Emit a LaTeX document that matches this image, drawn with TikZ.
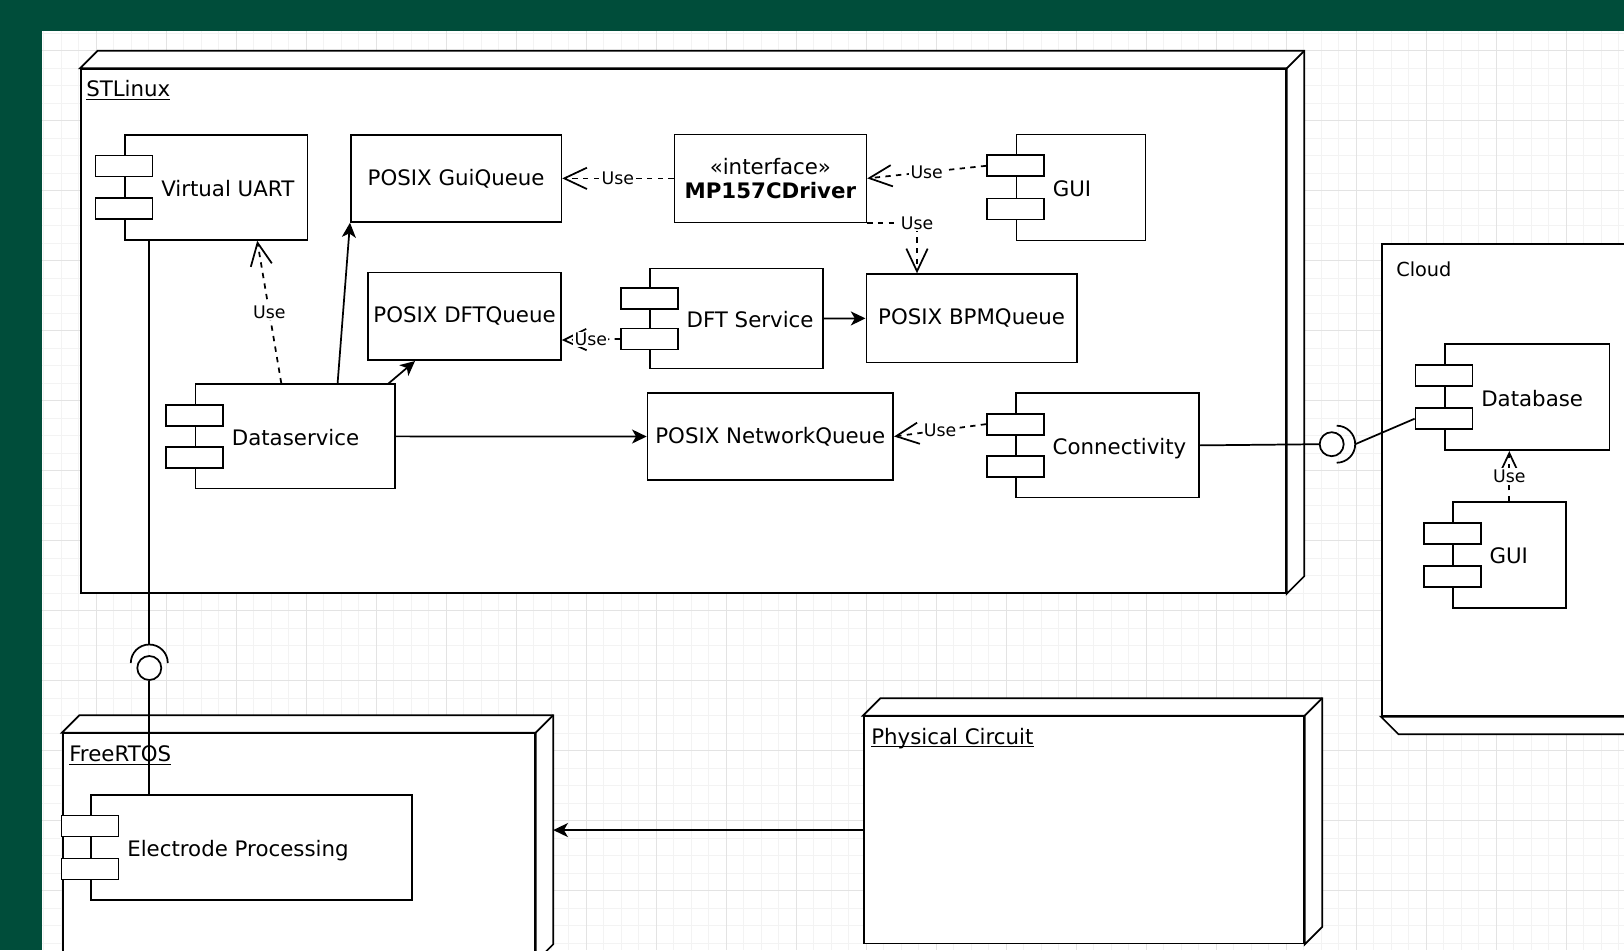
\documentclass[tikz,border=0pt]{standalone}
\usepackage{fontspec}
\setmainfont{DejaVu Sans}
\usetikzlibrary{calc, arrows.meta}

\begin{document}
\begin{tikzpicture}[x=0.75pt, y=-0.75pt,
    comp/.style={draw, fill=white, line width=1.3pt, anchor=north west, inner sep=0pt},
    port/.style={draw, fill=white, line width=1.3pt, minimum width=57*\px, minimum height=21*\px, inner sep=0pt},
    comptext/.style={anchor=base west, inner sep=0pt, font=\boxfont},
    queue/.style={draw, fill=white, line width=1.3pt, anchor=north west, inner sep=0pt, font=\boxfont},
    box3d/.style={draw, fill=white, line width=1.3pt, anchor=north west, inner sep=0pt},
    boxface/.style={draw, fill=white, line width=1.3pt},
    nodetitle/.style={anchor=base west, inner sep=0pt, font=\boxfont},
    lollipop/.style={circle, draw, fill=white, line width=1.3pt, minimum size=24*\px, inner sep=0pt},
    wire/.style={line width=1.3pt},
    flowarrow/.style={wire, -{Stealth[length=11pt, width=10.5pt, inset=3pt]}},
    usedep/.style={wire, dash pattern=on 4pt off 4pt, -{Straight Barb[length=17pt, width=16pt]}},
    uselbl/.style={fill=white, inner sep=1pt, font=\depfont}
  ]
  % Define colours
  \definecolor{canvasGreen}{HTML}{004D3A}
  \definecolor{gridMinor}{HTML}{F3F3F3}
  \definecolor{gridMajor}{HTML}{E3E3E3}

  % Units and fonts (coordinates are in pixels, y pointing down)
  \def\px{0.75pt}
  \def\depth{17.5} % depth of the 3D nodes
  \def\boxfont{\fontsize{16pt}{18pt}\selectfont}
  \def\cloudfont{\fontsize{14.5pt}{17pt}\selectfont}
  \def\depfont{\fontsize{13pt}{15pt}\selectfont}

  % Component: body, two ports on the left edge, label
  \def\component#1#2#3#4#5{%
    \node[comp, minimum width=#3*\px, minimum height=#4*\px] (#1) at #2 {};
    \node[port] (#1-a) at ($(#1.north west)!0.3!(#1.south west)$) {};
    \node[port] (#1-b) at ($(#1.north west)!0.7!(#1.south west)$) {};
    \node[comptext] (#1-text) at ($(#1.west)+(37,9)$) {#5};
  }

  \useasboundingbox (0,0) rectangle (1624,950);
  \clip (0,0) rectangle (1624,950);

  % Canvas and grid
  \fill[canvasGreen] (0,0) rectangle (1624,950);
  \fill[white] (42,31) rectangle (1624,950);
  \foreach \gx in {43.5,61,...,1624}
    \draw[gridMinor, line width=0.75pt] (\gx,31) -- (\gx,950);
  \foreach \gy in {33.2,50.7,...,950}
    \draw[gridMinor, line width=0.75pt] (42,\gy) -- (1624,\gy);
  \foreach \gx in {96,166,...,1624}
    \draw[gridMajor, line width=0.75pt] (\gx,31) -- (\gx,950);
  \foreach \gy in {50.7,120.7,...,950}
    \draw[gridMajor, line width=0.75pt] (42,\gy) -- (1624,\gy);

  % STLinux node
  \node[box3d, minimum width=1205*\px, minimum height=523.7*\px] (stlinux) at (80,68.3) {};
  \filldraw[boxface] (stlinux.north west) -- ++(\depth,-\depth) -| ($(stlinux.south east)+(\depth,-\depth)$)
    -- (stlinux.south east) -- (stlinux.north east) -- cycle;
  \draw[wire] (stlinux.north east) -- ++(\depth,-\depth);
  \node[nodetitle] (stlinux-title) at ($(stlinux.north west)+(6,28.5)$) {\underline{STLinux}};

  % FreeRTOS node
  \node[box3d, minimum width=472*\px, minimum height=227.3*\px] (rtos) at (62,732.7) {};
  \filldraw[boxface] (rtos.north west) -- ++(\depth,-\depth) -| ($(rtos.south east)+(\depth,-\depth)$)
    -- (rtos.south east) -- (rtos.north east) -- cycle;
  \draw[wire] (rtos.north east) -- ++(\depth,-\depth);
  \node[nodetitle] (rtos-title) at ($(rtos.north west)+(7,29)$) {\underline{FreeRTOS}};
  \coordinate (rtosSide) at ($(rtos.north east)+(\depth,0)$);

  % Physical Circuit node
  \node[box3d, minimum width=440*\px, minimum height=227*\px] (pc) at (863,715.7) {};
  \filldraw[boxface] (pc.north west) -- ++(\depth,-\depth) -| ($(pc.south east)+(\depth,-\depth)$)
    -- (pc.south east) -- (pc.north east) -- cycle;
  \draw[wire] (pc.north east) -- ++(\depth,-\depth);
  \node[nodetitle] (pc-title) at ($(pc.north west)+(8,28.3)$) {\underline{\smash{Physical Circuit}}};

  % Cloud node (depth drawn below)
  \node[box3d, minimum width=269*\px, minimum height=471.7*\px] (cloud) at (1381,243.3) {};
  \filldraw[boxface] (cloud.south west) -- ++(\depth,\depth) -| ($(cloud.north east)+(\depth,\depth)$)
    -- (cloud.north east) -- (cloud.south east) -- cycle;
  \node[nodetitle, font=\cloudfont] (cloud-title) at ($(cloud.north west)+(15,33.4)$) {Cloud};

  % Components
  \component{vuart}{(124,134)}{182.5}{105}{Virtual UART}
  \component{gui}{(1015.5,133.5)}{129}{106}{GUI}
  \component{dft}{(649.3,267.7)}{173}{100}{DFT Service}
  \component{ds}{(194.6,383.3)}{199.2}{104.4}{Dataservice}
  \component{conn}{(1015.4,392.3)}{182.4}{104.4}{Connectivity}
  \component{db}{(1444,343.3)}{164.7}{106}{Database}
  \component{guic}{(1452.3,501)}{112.7}{106}{GUI}
  \component{ep}{(90,794)}{321.4}{105.3}{Electrode Processing}

  % Queues and the driver interface
  \node[queue, minimum width=210.5*\px, minimum height=87*\px] (guiq) at (350,134) {POSIX GuiQueue};
  \node[queue, minimum width=192.6*\px, minimum height=87.6*\px] (dftq) at (367.4,271.7) {POSIX DFTQueue};
  \node[queue, minimum width=210.5*\px, minimum height=88.4*\px] (bpmq) at (865.5,273.3) {POSIX BPMQueue};
  \node[queue, minimum width=245.6*\px, minimum height=86.7*\px] (netq) at (646.7,392.3) {POSIX NetworkQueue};
  \node[queue, minimum width=192*\px, minimum height=88*\px, align=center] (driver) at (673.5,133.5)
    {«interface»\\\textbf{MP157CDriver}};

  % Provided interfaces (ball) and required sockets
  \node[lollipop] (ballUart) at (149.3,668) {};
  \node[lollipop] (ballNet) at (1331.7,444.2) {};
  \coordinate (sockUart) at ($(ballUart.center)+(0,-23.5)$);
  \coordinate (sockNet) at ($(ballNet.center)+(23.5,0)$);

  \draw[wire] ($(vuart.south west)+(25.3,0)$) -- (sockUart);
  \draw[wire] ($(sockUart)+(-18.5,18.5)$) arc[start angle=180, end angle=0, radius=18.5*\px];
  \draw[wire] (ballUart.south) -- ($(ep.north west)+(59.3,0)$);
  \draw[wire] (conn.east) -- (ballNet.west);
  \draw[wire] ($(sockNet)+(-18.5,-18.5)$) arc[start angle=90, end angle=-90, radius=18.5*\px];
  \draw[wire] (sockNet) -- (db-b.west);

  % Associations
  \draw[flowarrow] ($(ds.north west)+(143,0)$) -- (guiq.south west);
  \draw[flowarrow] ($(ds.north east)+(-8,1)$) -- ($(dftq.south west)+(47.6,0)$);
  \draw[flowarrow] (ds.east) -- (netq.west);
  \draw[flowarrow] (dft.east) -- (bpmq.west);
  \draw[flowarrow] (pc.west) -- (pc.west -| rtosSide);

  % Use dependencies
  \draw[usedep] ($(ds.north west)+(86.7,0)$) -- ($(vuart.south west)+(133.2,0)$)
    node[uselbl, midway] (use-uart) {Use};
  \draw[usedep] (driver.west) -- (guiq.east) node[uselbl, midway] (use-guiq) {Use};
  \draw[usedep] (gui-a.west) -- (driver.east) node[uselbl, midway] (use-driver) {Use};
  \draw[usedep] (driver.south east) -| ($(bpmq.north west)+(51.5,0)$)
    node[uselbl, pos=0.5] (use-bpmq) {Use};
  \draw[usedep] (dft-b.west) -- ($(dftq.south east)+(0,-21)$) node[uselbl, midway] (use-dftq) {Use};
  \draw[usedep] (conn-a.west) -- (netq.east) node[uselbl, midway] (use-netq) {Use};
  \draw[usedep] ($(guic.north west)+(57,0)$) -- ($(db.south west)+(65.3,0)$)
    node[uselbl, midway] (use-db) {Use};
\end{tikzpicture}
\end{document}
